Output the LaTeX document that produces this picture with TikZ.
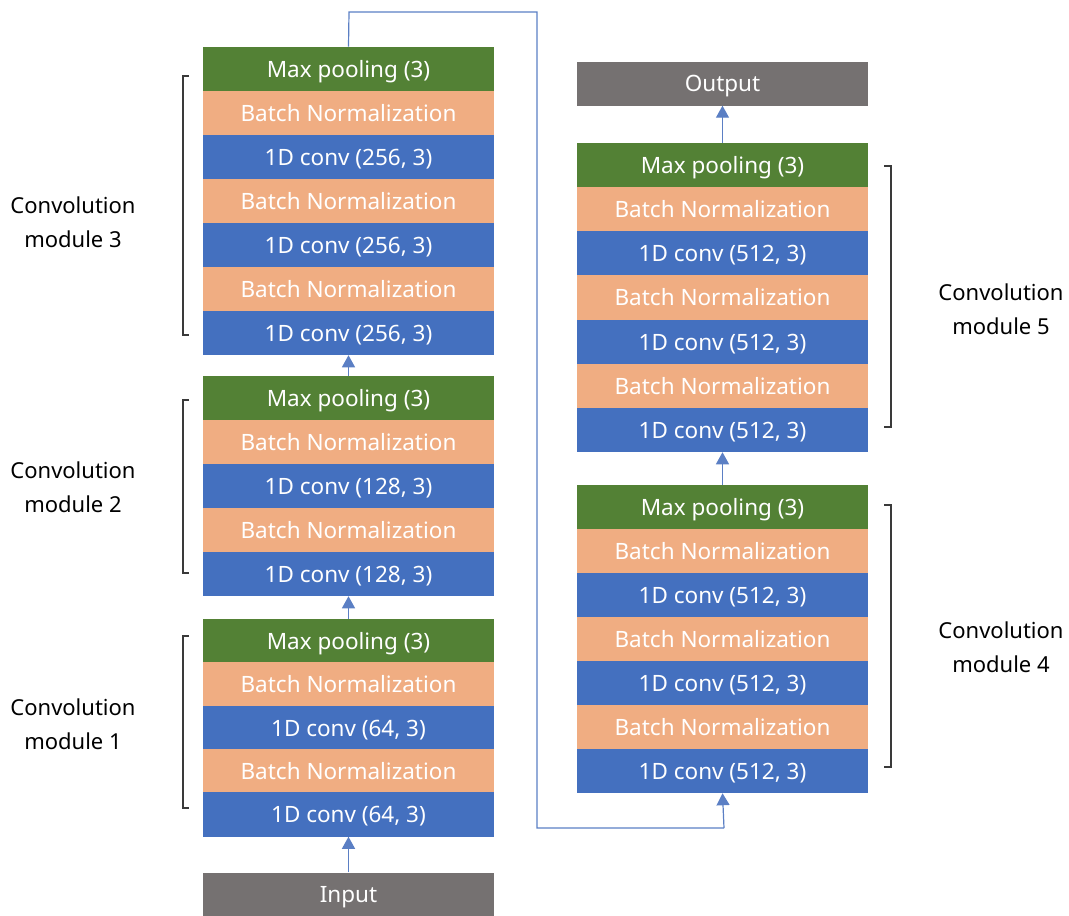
\documentclass[tikz,border=0pt]{standalone}
\usepackage{fontspec}
\setmainfont{Noto Sans}
\usetikzlibrary{arrows.meta}
\definecolor{mpgreen}{HTML}{538135}
\definecolor{bnorange}{HTML}{F0AD82}
\definecolor{convblue}{HTML}{4470BF}
\definecolor{iogrey}{HTML}{757171}
\definecolor{linkblue}{HTML}{5B7FC4}
\definecolor{brkgrey}{HTML}{3A3A3A}
\tikzset{
  layer/.style={inner sep=0pt, minimum width=291pt, minimum height=44.5pt, text=white, text height=16.5pt, text depth=0pt, font=\fontsize{22.5}{26}\selectfont},
  mp/.style={layer, fill=mpgreen},
  bn/.style={layer, fill=bnorange},
  conv/.style={layer, fill=convblue},
  io/.style={layer, fill=iogrey, minimum height=44pt},
  lbl/.style={align=center, text=black, font=\fontsize{22}{34}\selectfont},
  arr/.style={draw=linkblue, line width=1.2pt, -{Triangle[width=13pt,length=12pt]}},
  link/.style={draw=linkblue, line width=1.2pt},
  brk/.style={draw=brkgrey, line width=1.4pt}
}
\begin{document}
\begin{tikzpicture}[x=1pt,y=-1pt]
\useasboundingbox (0,0) rectangle (1069,916);
% left column, module 3
\node[mp]   (m3a) at (348.5,69)  {Max pooling (3)};
\node[bn]   (m3b) at (348.5,113) {Batch Normalization};
\node[conv] (m3c) at (348.5,157) {1D conv (256, 3)};
\node[bn]   (m3d) at (348.5,201) {Batch Normalization};
\node[conv] (m3e) at (348.5,245) {1D conv (256, 3)};
\node[bn]   (m3f) at (348.5,289) {Batch Normalization};
\node[conv] (m3g) at (348.5,332.8) {1D conv (256, 3)};
% module 2
\node[mp]   (m2a) at (348.5,398) {Max pooling (3)};
\node[bn]   (m2b) at (348.5,442) {Batch Normalization};
\node[conv] (m2c) at (348.5,486) {1D conv (128, 3)};
\node[bn]   (m2d) at (348.5,530) {Batch Normalization};
\node[conv] (m2e) at (348.5,573.8) {1D conv (128, 3)};
% module 1
\node[mp]   (m1a) at (348.5,641) {Max pooling (3)};
\node[bn]   (m1b) at (348.5,684.5) {Batch Normalization};
\node[conv] (m1c) at (348.5,728) {1D conv (64, 3)};
\node[bn]   (m1d) at (348.5,771.5) {Batch Normalization};
\node[conv] (m1e) at (348.5,814.3) {1D conv (64, 3)};
\node[io]   (inp) at (348.5,894.5) {Input};
% right column
\node[io]   (out) at (722.5,83.5) {Output};
\node[mp]   (m5a) at (722.5,165)   {Max pooling (3)};
\node[bn]   (m5b) at (722.5,209.2) {Batch Normalization};
\node[conv] (m5c) at (722.5,253.4) {1D conv (512, 3)};
\node[bn]   (m5d) at (722.5,297.6) {Batch Normalization};
\node[conv] (m5e) at (722.5,341.8) {1D conv (512, 3)};
\node[bn]   (m5f) at (722.5,386)   {Batch Normalization};
\node[conv] (m5g) at (722.5,429.8) {1D conv (512, 3)};
\node[mp]   (m4a) at (722.5,507) {Max pooling (3)};
\node[bn]   (m4b) at (722.5,551) {Batch Normalization};
\node[conv] (m4c) at (722.5,595) {1D conv (512, 3)};
\node[bn]   (m4d) at (722.5,639) {Batch Normalization};
\node[conv] (m4e) at (722.5,683) {1D conv (512, 3)};
\node[bn]   (m4f) at (722.5,727) {Batch Normalization};
\node[conv] (m4g) at (722.5,770.8) {1D conv (512, 3)};
% arrows
\draw[arr] (inp.north) -- (m1e.south);
\draw[arr] (m1a.north) -- (m2e.south);
\draw[arr] (m2a.north) -- (m3g.south);
\draw[arr] (m4a.north) -- (m5g.south);
\draw[arr] (m5a.north) -- (out.south);
\coordinate (c1) at (349,12);
\coordinate (c2) at (537,12);
\coordinate (c3) at (537,828);
\coordinate (c4) at (724,828);
\draw[link] (m3a.north) -- (c1) -- (c2) -- (c3) -- (c4);
\draw[arr] (c4) -- (m4g.south);
% brackets
\draw[brk] (189,76) -- (183,76) -- (183,335) -- (189,335);
\draw[brk] (189,400) -- (183,400) -- (183,573) -- (189,573);
\draw[brk] (189,636) -- (183,636) -- (183,808) -- (189,808);
\draw[brk] (884,166) -- (891,166) -- (891,427) -- (884,427);
\draw[brk] (884,505) -- (891,505) -- (891,767) -- (884,767);
% labels
\node[lbl] (l3) at (73,222) {Convolution\\module 3};
\node[lbl] (l2) at (73,487) {Convolution\\module 2};
\node[lbl] (l1) at (73,724) {Convolution\\module 1};
\node[lbl] (l5) at (1001,309) {Convolution\\module 5};
\node[lbl] (l4) at (1001,647) {Convolution\\module 4};
\end{tikzpicture}
\end{document}
